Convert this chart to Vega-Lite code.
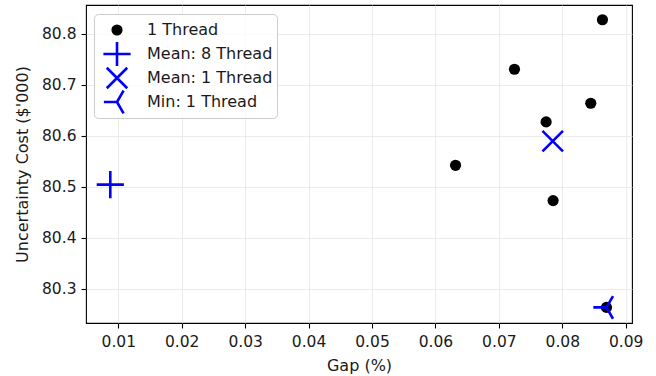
{
  "$schema": "https://vega.github.io/schema/vega-lite/v6.json",
  "width": 546,
  "height": 318,
  "autosize": "none",
  "padding": {"left": 86, "top": 5, "right": 24, "bottom": 53},
  "config": {
    "font": "DejaVu Sans",
    "view": {"stroke": "#000000", "strokeWidth": 1.1},
    "axis": {
      "domain": false,
      "grid": true,
      "gridColor": "#e6e6e6",
      "gridWidth": 0.8,
      "tickColor": "#000000",
      "tickSize": 5,
      "tickWidth": 1.1,
      "labelFont": "DejaVu Sans",
      "labelFontSize": 15.5,
      "labelColor": "#1a1a1a",
      "titleFont": "DejaVu Sans",
      "titleFontSize": 16,
      "titleFontWeight": "normal",
      "titleColor": "#1a1a1a"
    },
    "legend": {
      "labelFont": "DejaVu Sans",
      "labelFontSize": 16,
      "labelColor": "#1a1a1a"
    }
  },
  "data": {
    "values": [
      {"series": "1 Thread", "gap": 0.08633, "cost": 80.8275},
      {"series": "1 Thread", "gap": 0.07246, "cost": 80.7305},
      {"series": "1 Thread", "gap": 0.08449, "cost": 80.6638},
      {"series": "1 Thread", "gap": 0.07745, "cost": 80.6272},
      {"series": "1 Thread", "gap": 0.06317, "cost": 80.5420},
      {"series": "1 Thread", "gap": 0.07855, "cost": 80.4728},
      {"series": "1 Thread", "gap": 0.08696, "cost": 80.2633},
      {"series": "Mean: 8 Thread", "gap": 0.00874, "cost": 80.5042},
      {"series": "Mean: 1 Thread", "gap": 0.07849, "cost": 80.5896},
      {"series": "Min: 1 Thread", "gap": 0.08696, "cost": 80.2633}
    ]
  },
  "mark": {"type": "point", "opacity": 1, "strokeWidth": 2.6},
  "encoding": {
    "x": {
      "field": "gap",
      "type": "quantitative",
      "title": "Gap (%)",
      "scale": {"domain": [0.00491, 0.09099], "nice": false, "zero": false},
      "axis": {"values": [0.01, 0.02, 0.03, 0.04, 0.05, 0.06, 0.07, 0.08, 0.09], "format": ".2f", "labelPadding": 6, "titlePadding": 8}
    },
    "y": {
      "field": "cost",
      "type": "quantitative",
      "title": "Uncertainty Cost ($'000)",
      "scale": {"domain": [80.2327, 80.8565], "nice": false, "zero": false},
      "axis": {"values": [80.3, 80.4, 80.5, 80.6, 80.7, 80.8], "format": ".1f", "labelPadding": 5, "titlePadding": 11}
    },
    "shape": {
      "field": "series",
      "type": "nominal",
      "scale": {
        "domain": ["1 Thread", "Mean: 8 Thread", "Mean: 1 Thread", "Min: 1 Thread"],
        "range": ["circle", "M-1,0L1,0M0,-1L0,1", "M-1,-1L1,1M-1,1L1,-1", "M0,0L-1,0M0,0L0.5,-0.866M0,0L0.5,0.866"]
      },
      "legend": {
        "title": null,
        "orient": "none",
        "legendX": 8,
        "legendY": 9,
        "fillColor": "rgba(255,255,255,0.8)",
        "strokeColor": "#cccccc",
        "cornerRadius": 4,
        "padding": 4,
        "clipHeight": 24,
        "rowPadding": 0,
        "symbolOffset": 4,
        "labelOffset": 15,
        "symbolStrokeWidth": 2.6
      }
    },
    "fill": {
      "field": "series",
      "type": "nominal",
      "scale": {
        "domain": ["1 Thread", "Mean: 8 Thread", "Mean: 1 Thread", "Min: 1 Thread"],
        "range": ["#000000", "transparent", "transparent", "transparent"]
      }
    },
    "stroke": {
      "field": "series",
      "type": "nominal",
      "scale": {
        "domain": ["1 Thread", "Mean: 8 Thread", "Mean: 1 Thread", "Min: 1 Thread"],
        "range": ["transparent", "#0000ff", "#0000ff", "#0000ff"]
      }
    },
    "size": {
      "field": "series",
      "type": "nominal",
      "scale": {
        "type": "ordinal",
        "domain": ["1 Thread", "Mean: 8 Thread", "Mean: 1 Thread", "Min: 1 Thread"],
        "range": [125, 740, 420, 690]
      }
    }
  }
}
